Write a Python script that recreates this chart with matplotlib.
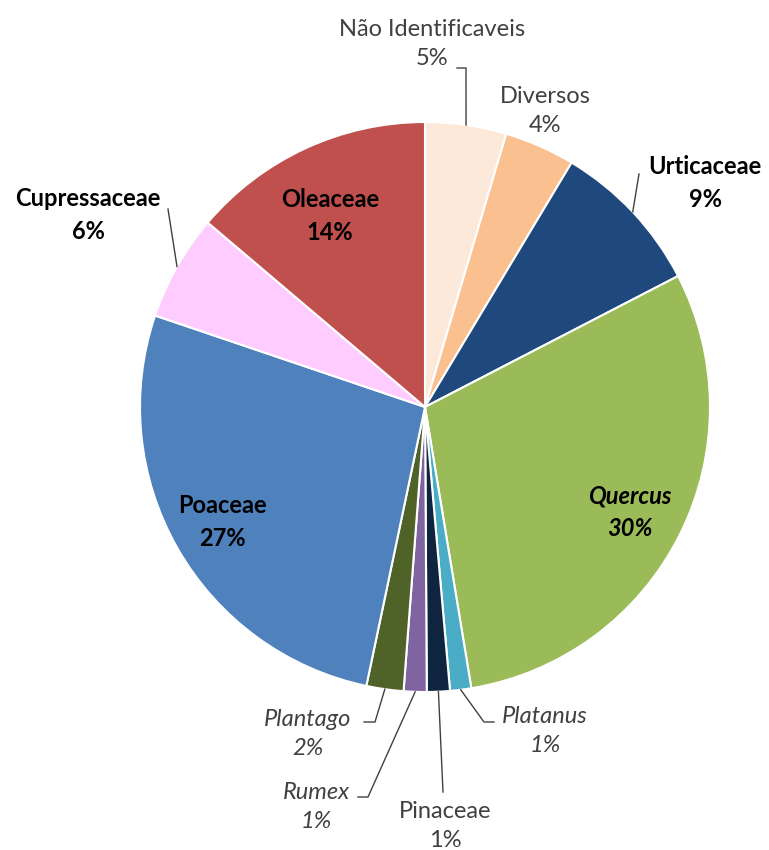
"""Pollen type share pie chart."""
import numpy as np
import matplotlib.pyplot as plt

plt.rcParams['font.family'] = ['Lato', 'DejaVu Sans']

labels = ['Não Identificaveis', 'Diversos', 'Urticaceae', 'Quercus', 'Platanus',
          'Pinaceae', 'Rumex', 'Plantago', 'Poaceae', 'Cupressaceae', 'Oleaceae']
shares = [4.6, 4.0, 8.8, 30.0, 1.2, 1.3, 1.3, 2.1, 26.9, 6.0, 13.8]
colors = ['#FDE9D9', '#FAC090', '#1F497D', '#9BBB59', '#4BACC6', '#0F243E',
          '#8064A2', '#4F6228', '#4F81BD', '#FFCCFF', '#C0504D']

W, H = 769, 850
CX, CY, R = 425, 407, 285  # pie centre and radius in pixels


def px(x, y):
    """Pixel position -> data coords (pie radius = 1)."""
    return (x - CX) / R, (CY - y) / R


fig = plt.figure(figsize=(W / 100, H / 100), dpi=100)
ax = fig.add_axes([0, 0, 1, 1])
wedges, _ = ax.pie(shares, startangle=90, counterclock=False, colors=colors,
                   radius=1, wedgeprops=dict(edgecolor='white', linewidth=1.5))
ax.set_xlim(-CX / R, (W - CX) / R)
ax.set_ylim(-(H - CY) / R, CY / R)
ax.set_aspect('equal')
ax.axis('off')

# label layout: text centre (px), style, weight, colour, leader path (px) or None
layout = {
    'Não Identificaveis': ((432, 44), 'normal', 'normal', '#404040', [(457, 68), (466, 68)]),
    'Diversos': ((545, 111), 'normal', 'normal', '#404040', None),
    'Urticaceae': ((705, 183), 'normal', 'bold', 'black', [(639, 174)]),
    'Quercus': ((630, 512), 'italic', 'bold', 'black', 'in'),
    'Platanus': ((545, 731), 'italic', 'normal', '#404040', [(494, 722), (484, 722)]),
    'Pinaceae': ((445, 826), 'normal', 'normal', '#404040', [(443, 792)]),
    'Rumex': ((316, 807), 'italic', 'normal', '#404040', [(358, 797), (368, 797)]),
    'Plantago': ((308, 734), 'italic', 'normal', '#404040', [(364, 722), (375, 722)]),
    'Poaceae': ((222, 522), 'normal', 'bold', 'black', 'in'),
    'Cupressaceae': ((88, 215), 'normal', 'bold', 'black', [(168, 209)]),
    'Oleaceae': ((330, 216), 'normal', 'bold', 'black', 'in'),
}

for w, name, val in zip(wedges, labels, shares):
    (tx, ty), style, weight, col, leader = layout[name]
    x, y = px(tx, ty)
    ax.text(x, y, f'{name}\n{round(val)}%', ha='center', va='center',
            fontsize=17, fontstyle=style, fontweight=weight, color=col,
            linespacing=1.5)
    if isinstance(leader, list):
        mid = np.deg2rad((w.theta1 + w.theta2) / 2)
        pts = [px(*p) for p in leader] + [(np.cos(mid), np.sin(mid))]
        xs, ys = zip(*pts)
        ax.plot(xs, ys, color='#404040', linewidth=1)

plt.savefig('out.png', dpi=100)
plt.close()
